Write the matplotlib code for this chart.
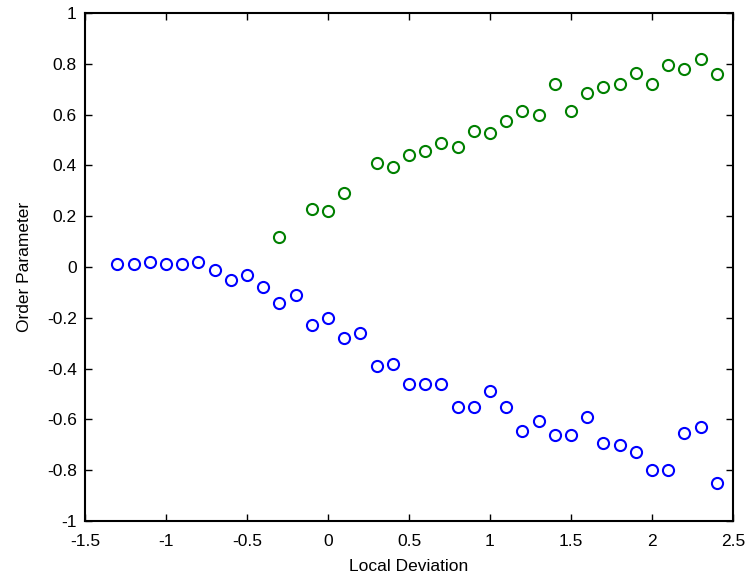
import numpy as np
import matplotlib
matplotlib.use('Agg')
import matplotlib.pyplot as plt

plt.rcParams['font.family'] = ['Liberation Sans', 'DejaVu Sans']

# blue series: x from -1.3 to 2.4 step 0.1
x_blue = [-1.3, -1.2, -1.1, -1.0, -0.9, -0.8, -0.7, -0.6, -0.5, -0.4,
          -0.3, -0.2, -0.1, 0.0, 0.1, 0.2, 0.3, 0.4, 0.5, 0.6,
          0.7, 0.8, 0.9, 1.0, 1.1, 1.2, 1.3, 1.4, 1.5, 1.6,
          1.7, 1.8, 1.9, 2.0, 2.1, 2.2, 2.3, 2.4]
y_blue = [0.01, 0.01, 0.02, 0.01, 0.01, 0.02, -0.01, -0.05, -0.03, -0.08,
          -0.14, -0.11, -0.23, -0.20, -0.28, -0.26, -0.39, -0.383, -0.46, -0.46,
          -0.46, -0.55, -0.55, -0.49, -0.55, -0.644, -0.605, -0.66, -0.66, -0.59,
          -0.694, -0.70, -0.73, -0.80, -0.80, -0.652, -0.629, -0.849]

# green series: x from -0.3 to 2.4 (no point at -0.2)
x_green = [-0.3, -0.1, 0.0, 0.1, 0.3, 0.4, 0.5, 0.6, 0.7, 0.8,
           0.9, 1.0, 1.1, 1.2, 1.3, 1.4, 1.5, 1.6, 1.7, 1.8,
           1.9, 2.0, 2.1, 2.2, 2.3, 2.4]
y_green = [0.119, 0.228, 0.222, 0.293, 0.411, 0.394, 0.441, 0.457, 0.489, 0.472,
           0.537, 0.528, 0.576, 0.614, 0.600, 0.719, 0.615, 0.684, 0.71, 0.719,
           0.765, 0.719, 0.795, 0.78, 0.819, 0.759]

xticks = ['-1.5', '-1', '-0.5', '0', '0.5', '1', '1.5', '2', '2.5']
yticks = ['-1', '-0.8', '-0.6', '-0.4', '-0.2', '0', '0.2', '0.4', '0.6', '0.8', '1']

fig = plt.figure(figsize=(7.5, 5.84), dpi=100)
ax = fig.add_axes([85/750, 1 - 521/584, (733-85)/750, (521-13)/584])

ax.plot(x_blue, y_blue, 'o', mfc='none', mec=(0, 0, 1), ms=8, mew=1.5)
ax.plot(x_green, y_green, 'o', mfc='none', mec=(0, 0.5, 0), ms=8, mew=1.5)

ax.set_xlim(-1.5, 2.5)
ax.set_ylim(-1, 1)
ax.set_xticks(np.arange(-1.5, 2.51, 0.5))
ax.set_yticks(np.arange(-1, 1.01, 0.2))
ax.set_xticklabels(xticks)
ax.set_yticklabels(yticks)
ax.tick_params(direction='in', top=True, right=True, length=5, width=1, labelsize=12.5)
ax.tick_params(axis='x', pad=9)
ax.tick_params(axis='y', pad=6)
for s in ax.spines.values():
    s.set_linewidth(1.5)

ax.set_xlabel('Local Deviation', fontsize=12.5)
ax.set_ylabel('Order Parameter', fontsize=12.5)
ax.xaxis.set_label_coords(0.5, (521 - 559) / 508)
ax.yaxis.set_label_coords((32 - 85) / 648, 0.5)

fig.savefig('out.png', dpi=100)
